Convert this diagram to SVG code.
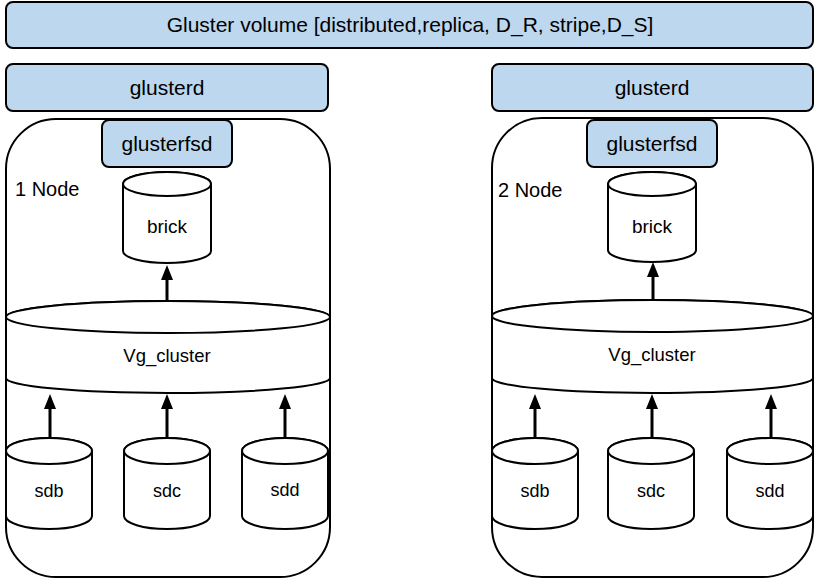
<svg xmlns="http://www.w3.org/2000/svg" width="815" height="579" viewBox="0 0 815 579">
<style>
.blue{fill:#BDD7EE;stroke:#000;stroke-width:2}
.box{fill:#fff;stroke:#000;stroke-width:2}
.t{font-family:"Liberation Sans",Arial,sans-serif;fill:#000;text-anchor:middle}
.arr{stroke:#000;stroke-width:3;fill:none}
</style>
<defs>
<marker id="ah" viewBox="0 0 15 12" refX="0" refY="6" markerWidth="15" markerHeight="12" markerUnits="userSpaceOnUse" orient="auto">
<path d="M0,0 L15,6 L0,12 Z" fill="#000"/>
</marker>
</defs>
<rect width="815" height="579" fill="#fff"/>
<g id="volume">
<rect class="blue" x="6" y="2" width="807" height="46" rx="7"/>
<text class="t" x="410" y="32" font-size="21">Gluster volume [distributed,replica, D_R, stripe,D_S]</text>
</g>
<g id="glusterd1">
<rect class="blue" x="6" y="64" width="322" height="47" rx="7"/>
<text class="t" x="167" y="95" font-size="21">glusterd</text>
</g>
<g id="glusterd2">
<rect class="blue" x="492" y="64" width="321" height="47" rx="7"/>
<text class="t" x="652" y="95" font-size="21">glusterd</text>
</g>
<g id="node1">
<rect class="box" x="6" y="119" width="324" height="458" rx="50"/>
<text x="15" y="196" font-size="20" font-family="Liberation Sans,Arial,sans-serif">1 Node</text>
</g>
<g id="node2">
<rect class="box" x="492" y="118" width="321" height="459" rx="50"/>
<text x="498" y="197" font-size="20" font-family="Liberation Sans,Arial,sans-serif">2 Node</text>
</g>
<g id="glusterfsd1">
<rect class="blue" x="102" y="120" width="130" height="47" rx="7"/>
<text class="t" x="167" y="151" font-size="21">glusterfsd</text>
</g>
<g id="glusterfsd2">
<rect class="blue" x="587" y="120" width="130" height="47" rx="7"/>
<text class="t" x="652" y="151" font-size="21">glusterfsd</text>
</g>
<g id="brick1">
<path class="box" d="M123,184 L123,251 A44,12 0 0 0 211,251 L211,184 A44,12 0 0 0 123,184 Z"/>
<ellipse class="box" cx="167" cy="184" rx="44" ry="12"/>
<text class="t" x="167" y="233" font-size="19">brick</text>
</g>
<g id="brick2">
<path class="box" d="M608,184 L608,250 A44,12 0 0 0 696,250 L696,184 A44,12 0 0 0 608,184 Z"/>
<ellipse class="box" cx="652" cy="184" rx="44" ry="12"/>
<text class="t" x="652" y="233" font-size="19">brick</text>
</g>
<g id="vg1">
<path class="box" d="M6,317 L6,378 A162,15 0 0 0 330,378 L330,317 A162,16 0 0 0 6,317 Z"/>
<ellipse class="box" cx="168" cy="317" rx="162" ry="16"/>
<text class="t" x="167" y="362" font-size="18.5">Vg_cluster</text>
</g>
<g id="vg2">
<path class="box" d="M492,316 L492,378 A160.5,15 0 0 0 813,378 L813,316 A160.5,16 0 0 0 492,316 Z"/>
<ellipse class="box" cx="652.5" cy="316" rx="160.5" ry="16"/>
<text class="t" x="652" y="361" font-size="18.5">Vg_cluster</text>
</g>
<g id="sdb1">
<path class="box" d="M6,451 L6,516 A43,13 0 0 0 92,516 L92,451 A43,13 0 0 0 6,451 Z"/>
<ellipse class="box" cx="49" cy="451" rx="43" ry="13"/>
<text class="t" x="49" y="497" font-size="18">sdb</text>
</g>
<g id="sdc1">
<path class="box" d="M124,451 L124,516 A43,13 0 0 0 210,516 L210,451 A43,13 0 0 0 124,451 Z"/>
<ellipse class="box" cx="167" cy="451" rx="43" ry="13"/>
<text class="t" x="167" y="497" font-size="18">sdc</text>
</g>
<g id="sdd1">
<path class="box" d="M242,451 L242,516 A43,13 0 0 0 328,516 L328,451 A43,13 0 0 0 242,451 Z"/>
<ellipse class="box" cx="285" cy="451" rx="43" ry="13"/>
<text class="t" x="285" y="496" font-size="18">sdd</text>
</g>
<g id="sdb2">
<path class="box" d="M492,451 L492,516 A43,13 0 0 0 578,516 L578,451 A43,13 0 0 0 492,451 Z"/>
<ellipse class="box" cx="535" cy="451" rx="43" ry="13"/>
<text class="t" x="535" y="497" font-size="18">sdb</text>
</g>
<g id="sdc2">
<path class="box" d="M608,451 L608,516 A43,13 0 0 0 694,516 L694,451 A43,13 0 0 0 608,451 Z"/>
<ellipse class="box" cx="651" cy="451" rx="43" ry="13"/>
<text class="t" x="651" y="497" font-size="18">sdc</text>
</g>
<g id="sdd2">
<path class="box" d="M727,451 L727,516 A43,13 0 0 0 813,516 L813,451 A43,13 0 0 0 727,451 Z"/>
<ellipse class="box" cx="770" cy="451" rx="43" ry="13"/>
<text class="t" x="770" y="497" font-size="18">sdd</text>
</g>
<g id="connectors">
<line class="arr" x1="167" y1="301" x2="167" y2="280" marker-end="url(#ah)"/>
<line class="arr" x1="50" y1="437" x2="50" y2="409" marker-end="url(#ah)"/>
<line class="arr" x1="167" y1="437" x2="167" y2="409" marker-end="url(#ah)"/>
<line class="arr" x1="285" y1="437" x2="285" y2="409" marker-end="url(#ah)"/>
<line class="arr" x1="653" y1="300" x2="653" y2="277" marker-end="url(#ah)"/>
<line class="arr" x1="535" y1="437" x2="535" y2="409" marker-end="url(#ah)"/>
<line class="arr" x1="652" y1="437" x2="652" y2="409" marker-end="url(#ah)"/>
<line class="arr" x1="771" y1="437" x2="771" y2="409" marker-end="url(#ah)"/>
</g>
</svg>
